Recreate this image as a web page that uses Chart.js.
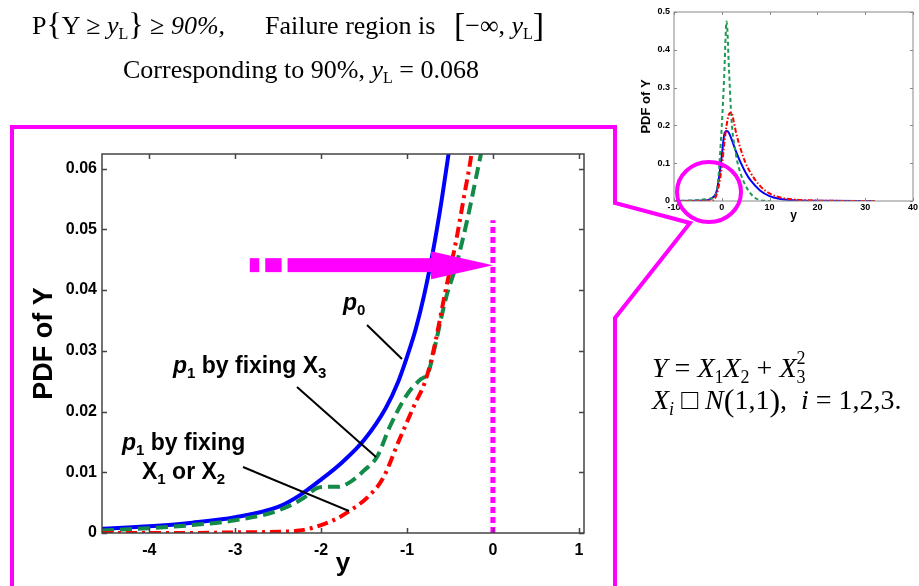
<!DOCTYPE html>
<html>
<head>
<meta charset="utf-8">
<script src="https://cdn.jsdelivr.net/npm/chart.js@4.4.0/dist/chart.umd.min.js"></script>
<style>
body { margin:0; background:#fff; width:919px; height:586px; overflow:hidden; position:relative; }
#main { position:absolute; left:0; top:127px; width:615px; height:459px; }
#inset { position:absolute; left:630px; top:0; width:289px; height:230px; }
svg { position:absolute; left:0; top:0; }
svg text { white-space:pre; }
.tnr { font-family:'Liberation Serif','Times New Roman',serif; fill:#000; }
.lbl { font-family:'Liberation Sans',Arial,sans-serif; font-weight:bold; font-size:23px; fill:#000; }
</style>
</head>
<body>
<div id="main"><canvas id="mainChart"></canvas></div>
<div id="inset"><canvas id="insetChart"></canvas></div>
<svg width="919" height="586">
  <!-- top formulas -->
  <text class="tnr" x="32" y="34" font-size="26">P<tspan font-size="32" dy="1">{</tspan><tspan dy="-1">Y ≥ </tspan><tspan font-style="italic">y</tspan><tspan font-size="16" dy="5">L</tspan><tspan font-size="32" dy="-4">}</tspan><tspan dy="-1"> ≥ </tspan><tspan font-style="italic">90%,</tspan></text>
  <text class="tnr" x="265" y="34" font-size="26">Failure region is</text>
  <text class="tnr" x="454" y="34" font-size="26"><tspan font-size="34" dy="2">[</tspan><tspan dy="-2">−∞, </tspan><tspan font-style="italic">y</tspan><tspan font-size="16" dy="5">L</tspan><tspan font-size="34" dy="-3">]</tspan></text>
  <text class="tnr" x="123" y="78" font-size="26">Corresponding to 90%, <tspan font-style="italic">y</tspan><tspan font-size="16" dy="5">L</tspan><tspan dy="-5"> = 0.068</tspan></text>
  <!-- model -->
  <text class="tnr" x="652" y="377" font-size="28" font-style="italic">Y <tspan font-style="normal">= </tspan>X<tspan font-size="18" dy="6" font-style="normal">1</tspan><tspan dy="-6">X</tspan><tspan font-size="18" dy="6" font-style="normal">2</tspan><tspan dy="-6" font-style="normal"> + </tspan><tspan>X</tspan><tspan font-size="18" dy="6" font-style="normal">3</tspan><tspan font-size="18" dy="-19" dx="-9" font-style="normal">2</tspan></text>
  <text class="tnr" x="652" y="409" font-size="28" font-style="italic">X<tspan font-size="18" dy="6">i</tspan><tspan dy="-6" font-style="normal"> □ </tspan>N<tspan font-style="normal" font-size="32" dy="2">(</tspan><tspan font-style="normal" dy="-2">1,1</tspan><tspan font-style="normal" font-size="32" dy="2">)</tspan><tspan font-style="normal" dy="-2">,  </tspan>i<tspan font-style="normal"> = 1,2,3.</tspan></text>
  <!-- magenta frame and zoom circle -->
  <path d="M12,590 L12,127 L615,127 L615,203 L690,223 L615,318 L615,590" fill="none" stroke="#ff00ff" stroke-width="4" stroke-linejoin="miter"/>
  <ellipse cx="709" cy="192" rx="32" ry="30" fill="none" stroke="#ff00ff" stroke-width="4"/>
  <!-- curve labels -->
  <text class="lbl" x="343" y="310"><tspan font-style="italic">p</tspan><tspan font-size="15" dy="5">0</tspan></text>
  <line x1="367" y1="325" x2="402" y2="359" stroke="#000" stroke-width="2"/>
  <text class="lbl" x="173" y="373"><tspan font-style="italic">p</tspan><tspan font-size="15" dy="5">1</tspan><tspan dy="-5"> by fixing X</tspan><tspan font-size="15" dy="5">3</tspan></text>
  <line x1="297" y1="387" x2="376" y2="457" stroke="#000" stroke-width="2"/>
  <text class="lbl" x="122" y="450"><tspan font-style="italic">p</tspan><tspan font-size="15" dy="5">1</tspan><tspan dy="-5"> by fixing</tspan></text>
  <text class="lbl" x="142" y="479">X<tspan font-size="15" dy="5">1</tspan><tspan dy="-5"> or X</tspan><tspan font-size="15" dy="5">2</tspan></text>
  <line x1="243" y1="467" x2="349" y2="511" stroke="#000" stroke-width="2"/>
</svg>
<script>
// main plot (zoomed tail)
var xTicks = [-4, -3, -2, -1, 0, 1];
var yTicks = [0, 0.01, 0.02, 0.03, 0.04, 0.05, 0.06];

var xP0 = [-4.55, -4, -3.5, -3, -2.5, -2.25, -2, -1.75, -1.5, -1.25, -1.1, -1, -0.9, -0.8, -0.7, -0.6, -0.5];
var p0 = [0.0007, 0.0011, 0.0017, 0.0026, 0.0043, 0.0062, 0.0088, 0.0117, 0.0153, 0.0205, 0.0250, 0.0290, 0.0335, 0.0392, 0.0462, 0.0545, 0.0640];

var xP1X3 = [-4.55, -4, -3.5, -3, -2.5, -2.2, -2.05, -1.95, -1.8, -1.65, -1.5, -1.35, -1.2, -1, -0.85, -0.75, -0.7, -0.55, -0.42, -0.3, -0.15, -0.1];
var p1X3 = [0.0004, 0.0008, 0.0013, 0.0021, 0.0037, 0.0058, 0.0074, 0.0076, 0.0076, 0.0085, 0.0103, 0.0125, 0.0175, 0.0228, 0.0252, 0.0265, 0.0292, 0.0385, 0.0445, 0.0515, 0.0617, 0.0650];

var xP1X12 = [-4.55, -3.5, -3, -2.5, -2.25, -2, -1.8, -1.65, -1.45, -1.28, -1.1, -0.9, -0.8, -0.7, -0.55, -0.43, -0.33, -0.25, -0.22];
var p1X12 = [0.0000, 0.0000, 0.0001, 0.0002, 0.0004, 0.0013, 0.0025, 0.0038, 0.0060, 0.0090, 0.0150, 0.0215, 0.0245, 0.0295, 0.0400, 0.0480, 0.0559, 0.0624, 0.0660];

var yL = 0;          // limit line position
var yLTop = 0.0515;
var arrowY = 0.0441;
var arrowDashes = [[-2.83, -2.72], [-2.65, -2.46]];
var arrowShaft = [-2.39, -0.72];
var arrowTip = 0;

// inset (full pdf)
var xTicksIn = [-10, 0, 10, 20, 30, 40];
var yTicksIn = [0, 0.1, 0.2, 0.3, 0.4, 0.5];
var xIn0 = [-10, -4, -2, -1, 0, 0.5, 1, 1.5, 2, 3, 4, 5, 6, 8, 10, 12, 15, 20, 32];
var in0 = [0, 0.001, 0.008, 0.03, 0.12, 0.175, 0.185, 0.18, 0.165, 0.13, 0.1, 0.075, 0.055, 0.028, 0.013, 0.006, 0.002, 0.0005, 0];
var xIn3 = [-10, -2, -1, 0, 0.5, 1, 1.5, 2, 3, 4, 5, 6, 7, 8, 10];
var in3 = [0, 0.007, 0.03, 0.2, 0.33, 0.475, 0.35, 0.22, 0.12, 0.07, 0.04, 0.02, 0.008, 0.002, 0];
var xIn12 = [-10, -2, -1, 0, 0.5, 1, 1.5, 2, 2.5, 3, 4, 5, 6, 8, 10, 12, 15, 20, 25, 32];
var in12 = [0, 0.001, 0.02, 0.09, 0.15, 0.2, 0.23, 0.235, 0.21, 0.18, 0.135, 0.1, 0.075, 0.04, 0.02, 0.01, 0.004, 0.001, 0.0003, 0];

function pts(xs, ys) { return xs.map(function (x, i) { return {x: x, y: ys[i]}; }); }

Chart.defaults.font.family = "'Liberation Sans', Arial, sans-serif";
Chart.defaults.color = '#000';

var boxPlugin = {
    id: 'box',
    afterDatasetsDraw: function (chart, args, opts) {
        var ctx = chart.ctx, a = chart.chartArea;
        var sx = chart.scales.x, sy = chart.scales.y;
        ctx.save();
        ctx.strokeStyle = opts.color;
        ctx.lineWidth = opts.width;
        ctx.beginPath();
        sx.ticks.forEach(function (t) {
            var px = Math.round(sx.getPixelForValue(t.value)) + 0.5;
            ctx.moveTo(px, a.bottom); ctx.lineTo(px, a.bottom - opts.len);
            ctx.moveTo(px, a.top); ctx.lineTo(px, a.top + opts.len);
        });
        sy.ticks.forEach(function (t) {
            var py = Math.round(sy.getPixelForValue(t.value)) + 0.5;
            ctx.moveTo(a.left, py); ctx.lineTo(a.left + opts.len, py);
            ctx.moveTo(a.right, py); ctx.lineTo(a.right - opts.len, py);
        });
        ctx.stroke();
        ctx.strokeRect(a.left, a.top, a.right - a.left, a.bottom - a.top);
        ctx.restore();
    }
};

var arrowPlugin = {
    id: 'arrow',
    afterDatasetsDraw: function (chart) {
        var ctx = chart.ctx, sx = chart.scales.x, sy = chart.scales.y;
        var py = sy.getPixelForValue(arrowY);
        ctx.save();
        ctx.fillStyle = '#ff00ff';
        arrowDashes.concat([arrowShaft]).forEach(function (d) {
            var x0 = sx.getPixelForValue(d[0]), x1 = sx.getPixelForValue(d[1]);
            ctx.fillRect(x0, py - 7, x1 - x0, 14);
        });
        var hx = sx.getPixelForValue(arrowShaft[1]), tx = sx.getPixelForValue(arrowTip);
        ctx.beginPath();
        ctx.moveTo(hx, py - 14); ctx.lineTo(tx, py); ctx.lineTo(hx, py + 14);
        ctx.closePath();
        ctx.fill();
        ctx.restore();
    }
};

var mainChart = new Chart(document.getElementById('mainChart'), {
    type: 'line',
    data: {
        datasets: [{
            label: 'p1 by fixing X1 or X2',
            data: pts(xP1X12, p1X12),
            borderColor: '#ff0000',
            borderWidth: 4,
            borderDash: [11, 5, 3, 5],
            pointRadius: 0,
            cubicInterpolationMode: 'monotone'
        },
        {
            label: 'p1 by fixing X3',
            data: pts(xP1X3, p1X3),
            borderColor: '#138a48',
            borderWidth: 4,
            borderDash: [12, 6],
            pointRadius: 0,
            cubicInterpolationMode: 'monotone'
        },
        {
            label: 'p0',
            data: pts(xP0, p0),
            borderColor: '#0000ff',
            borderWidth: 4,
            pointRadius: 0,
            cubicInterpolationMode: 'monotone'
        },
        {
            label: 'yL',
            data: [{x: yL, y: 0}, {x: yL, y: yLTop}],
            borderColor: '#ff00ff',
            borderWidth: 5,
            borderDash: [6, 4],
            pointRadius: 0
        }]
    },
    options: {
        responsive: true,
        maintainAspectRatio: false,
        animation: false,
        layout: { padding: { left: 0, top: 27, right: 31, bottom: 0 } },
        plugins: {
            legend: { display: false },
            tooltip: { enabled: false },
            box: { color: '#444', width: 1.5, len: 5 }
        },
        scales: {
            x: {
                type: 'linear',
                min: -4.55,
                max: 1.06,
                afterBuildTicks: function (scale) { scale.ticks = xTicks.map(function (v) { return {value: v}; }); },
                afterFit: function (scale) { scale.height = 53; },
                grid: { display: false, drawTicks: false },
                border: { display: false },
                ticks: { font: { size: 16, weight: 'bold' }, padding: 8, maxRotation: 0 },
                title: { display: true, text: 'y', font: { size: 26, weight: 'bold' }, padding: { top: 0, bottom: 7 } }
            },
            y: {
                min: 0,
                max: 0.0624,
                afterBuildTicks: function (scale) { scale.ticks = yTicks.map(function (v) { return {value: v}; }); },
                afterFit: function (scale) { scale.width = 102; },
                grid: { display: false, drawTicks: false },
                border: { display: false },
                ticks: {
                    font: { size: 16, weight: 'bold' },
                    padding: 5,
                    callback: function (v) { return v === 0 ? '0' : v.toFixed(2); }
                },
                title: { display: true, text: 'PDF of Y', font: { size: 27, weight: 'bold' }, padding: { top: 28, bottom: 0 } }
            }
        }
    },
    plugins: [boxPlugin, arrowPlugin]
});

var insetChart = new Chart(document.getElementById('insetChart'), {
    type: 'line',
    data: {
        datasets: [{
            label: 'p1 by fixing X1 or X2',
            data: pts(xIn12, in12),
            borderColor: '#ff0000',
            borderWidth: 2,
            borderDash: [5, 2, 1.5, 2],
            pointRadius: 0,
            cubicInterpolationMode: 'monotone'
        },
        {
            label: 'p1 by fixing X3',
            data: pts(xIn3, in3),
            borderColor: '#1f9a55',
            borderWidth: 2,
            borderDash: [4, 3],
            pointRadius: 0,
            cubicInterpolationMode: 'monotone'
        },
        {
            label: 'p0',
            data: pts(xIn0, in0),
            borderColor: '#0000ff',
            borderWidth: 2,
            pointRadius: 0,
            cubicInterpolationMode: 'monotone'
        }]
    },
    options: {
        responsive: true,
        maintainAspectRatio: false,
        animation: false,
        layout: { padding: { left: 0, top: 12, right: 4, bottom: 0 } },
        plugins: {
            legend: { display: false },
            tooltip: { enabled: false },
            box: { color: '#888', width: 1, len: 3 }
        },
        scales: {
            x: {
                type: 'linear',
                min: -10,
                max: 40,
                afterBuildTicks: function (scale) { scale.ticks = xTicksIn.map(function (v) { return {value: v}; }); },
                afterFit: function (scale) { scale.height = 29; },
                grid: { display: false, drawTicks: false },
                border: { display: false },
                ticks: { font: { size: 9, weight: 'bold' }, padding: 1, maxRotation: 0 },
                title: { display: true, text: 'y', font: { size: 12, weight: 'bold' }, padding: { top: 0, bottom: 7 } }
            },
            y: {
                min: 0,
                max: 0.5,
                afterBuildTicks: function (scale) { scale.ticks = yTicksIn.map(function (v) { return {value: v}; }); },
                afterFit: function (scale) { scale.width = 44; },
                grid: { display: false, drawTicks: false },
                border: { display: false },
                ticks: {
                    font: { size: 9, weight: 'bold' },
                    padding: 4,
                    callback: function (v) { return v === 0 ? '0' : v.toFixed(1); }
                },
                title: { display: true, text: 'PDF of Y', font: { size: 13, weight: 'bold' }, padding: { top: 9, bottom: 0 } }
            }
        }
    },
    plugins: [boxPlugin]
});
</script>
</body>
</html>
